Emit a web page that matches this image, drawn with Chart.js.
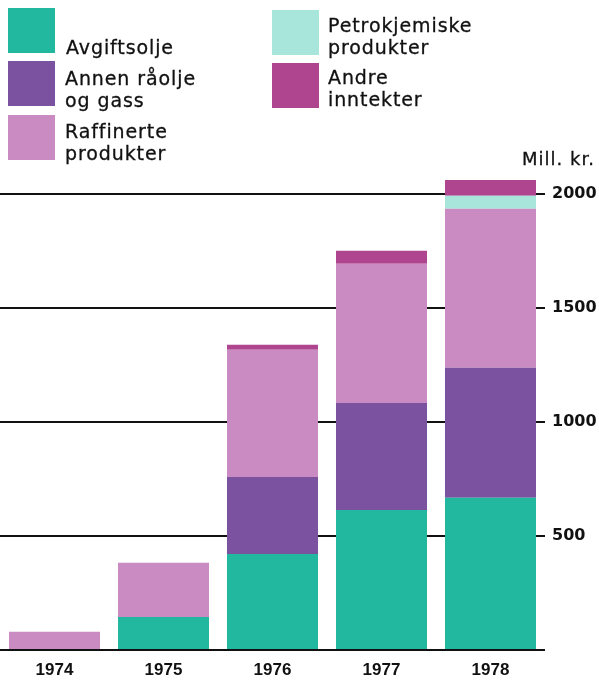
<!DOCTYPE html>
<html>
<head>
<meta charset="utf-8">
<script src="https://cdn.jsdelivr.net/npm/chart.js@4"></script>
<style>
  html, body { margin: 0; padding: 0; background: #fff; }
  #wrap { position: relative; width: 599px; height: 681px; overflow: hidden; }
  #chart { position: absolute; left: 0; top: 0; }
  .sw { position: absolute; width: 47px; height: 45px; }
  .lt { position: absolute; font-family: "DejaVu Sans", sans-serif; font-size: 19px;
        letter-spacing: 0.9px; line-height: 22px; color: #111; -webkit-text-stroke: 0.3px #111; }
  #unit { position: absolute; left: 522px; top: 148px; font-family: "DejaVu Sans", sans-serif;
          font-size: 18px; letter-spacing: 1px; color: #111; -webkit-text-stroke: 0.3px #111; }
</style>
</head>
<body>
<div id="wrap">
  <canvas id="chart" width="599" height="681"></canvas>

  <div class="sw" style="left:8px;top:8px;background:#22b89f"></div>
  <div class="lt" style="left:66px;top:36px">Avgiftsolje</div>
  <div class="sw" style="left:8px;top:61px;background:#7b52a0"></div>
  <div class="lt" style="left:65px;top:67px">Annen råolje<br>og gass</div>
  <div class="sw" style="left:8px;top:115px;background:#c98bc1"></div>
  <div class="lt" style="left:65px;top:120px">Raffinerte<br>produkter</div>

  <div class="sw" style="left:272px;top:10px;background:#a8e6dc"></div>
  <div class="lt" style="left:328px;top:14px">Petrokjemiske<br>produkter</div>
  <div class="sw" style="left:272px;top:63px;background:#b0458f"></div>
  <div class="lt" style="left:328px;top:66px">Andre<br>inntekter</div>

  <div id="unit">Mill. kr.</div>
</div>

<script>
// years and values in mill. kr.
const years = ['1974', '1975', '1976', '1977', '1978'];
const avgiftsolje = [0, 145, 421, 614, 667];
const annenRaolje = [0, 0, 338, 469, 570];
const raffinerte = [80, 237, 557, 610, 697];
const petrokjemiske = [0, 0, 0, 0, 57];
const andre = [0, 0, 22, 57, 70];
const yTicks = [0, 500, 1000, 1500, 2000];

const ctx = document.getElementById('chart');

function ds(label, data, color) {
    return {
        label: label,
        data: data,
        backgroundColor: color,
        borderWidth: 0,
        barPercentage: 0.835,
        categoryPercentage: 1
    };
}

new Chart(ctx, {
    type: 'bar',
    data: {
        labels: years,
        datasets: [
            ds('Avgiftsolje', avgiftsolje, '#22b89f'),
            ds('Annen råolje og gass', annenRaolje, '#7b52a0'),
            ds('Raffinerte produkter', raffinerte, '#c98bc1'),
            ds('Petrokjemiske produkter', petrokjemiske, '#a8e6dc'),
            ds('Andre inntekter', andre, '#b0458f')
        ]
    },
    options: {
        responsive: false,
        animation: false,
        layout: { padding: { top: 171, left: 0, right: 0, bottom: 0 } },
        plugins: {
            legend: { display: false },
            tooltip: { enabled: false }
        },
        scales: {
            x: {
                stacked: true,
                grid: { display: false },
                border: { display: false },
                ticks: {
                    padding: 2,
                    color: '#111',
                    font: { family: '"Liberation Sans", sans-serif', size: 17, weight: 'bold' }
                },
                afterFit: function (scale) { scale.height = 31; }
            },
            y: {
                stacked: true,
                position: 'right',
                min: 0,
                max: 2100,
                z: 1,
                afterBuildTicks: function (scale) {
                    scale.ticks = yTicks.map(function (v) { return { value: v }; });
                },
                grid: {
                    color: '#111',
                    lineWidth: 2,
                    drawTicks: false
                },
                border: { display: false },
                ticks: {
                    padding: 7,
                    color: '#111',
                    font: { family: '"DejaVu Sans", sans-serif', size: 16, weight: 'bold' },
                    callback: function (v) { return v === 0 ? '' : v; }
                },
                afterFit: function (scale) { scale.width = 54; }
            }
        }
    }
});
</script>
</body>
</html>
